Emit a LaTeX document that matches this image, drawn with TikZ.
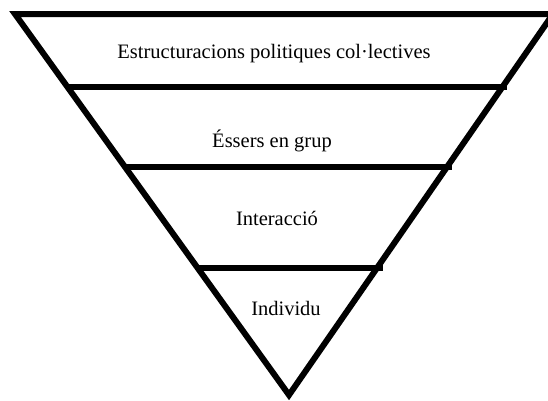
\documentclass[tikz,border=0pt]{standalone}
\usepackage{fontspec}
\setmainfont{Liberation Serif}
\begin{document}
\begin{tikzpicture}[x=1pt,y=-1pt,
  edge/.style={line width=6pt,line join=miter,line cap=butt},
  label/.style={anchor=base,inner sep=0pt,font=\fontsize{20.5}{24}\selectfont}]
\useasboundingbox (0,0) rectangle (548,400);
\fill[white] (0,0) rectangle (548,400);
\clip (0,0) rectangle (548,400);
\coordinate (tl) at (15,14);
\coordinate (tr) at (553,14);
\coordinate (ap) at (289,395);
\draw[edge] (tl) -- (tr) -- (ap) -- cycle;
\coordinate (a1) at (68,87);  \coordinate (b1) at (507,87);
\coordinate (a2) at (124,167); \coordinate (b2) at (452,167);
\coordinate (a3) at (197,268); \coordinate (b3) at (383,268);
\draw[edge] (a1) -- (b1);
\draw[edge] (a2) -- (b2);
\draw[edge] (a3) -- (b3);
\node[label] (t1) at (274,58) {Estructuracions politiques col·lectives};
\node[label] (t2) at (272,147) {Éssers en grup};
\node[label] (t3) at (277,225) {Interacció};
\node[label] (t4) at (286,315) {Individu};
\end{tikzpicture}
\end{document}
